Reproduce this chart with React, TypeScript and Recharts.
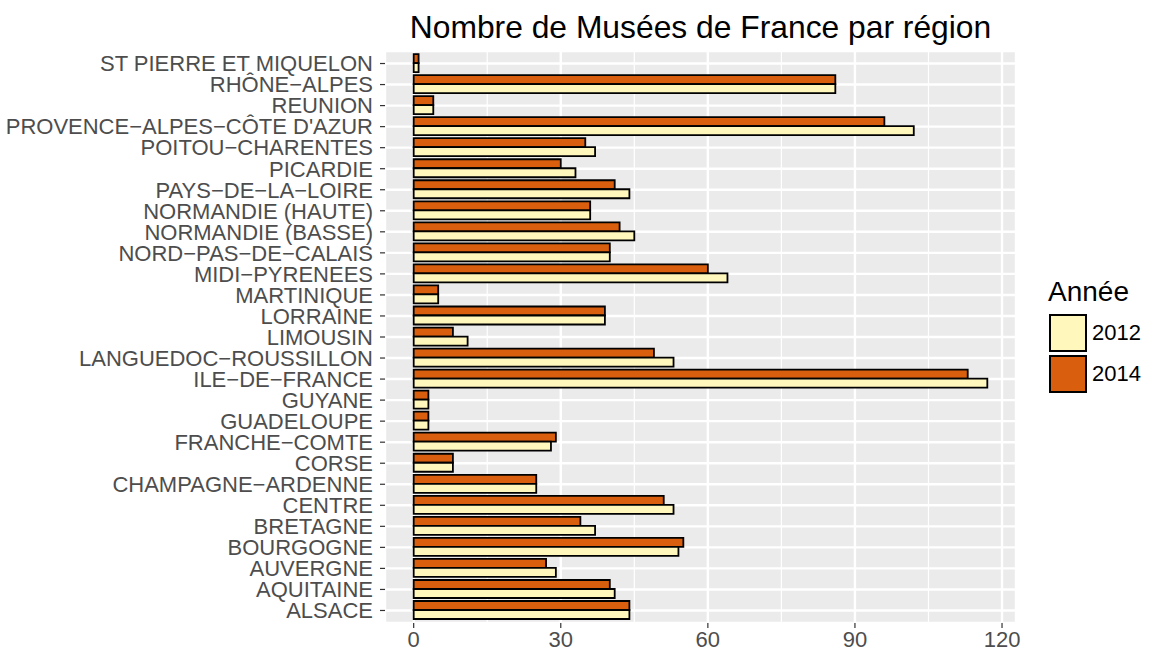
import React from 'react';
import { BarChart, Bar, XAxis, YAxis, CartesianGrid } from 'recharts';

const FONT = '"Liberation Sans", Arial, Helvetica, sans-serif';

// Categories, top to bottom as drawn
const regions = [
  'ST PIERRE ET MIQUELON',
  'RHÔNE−ALPES',
  'REUNION',
  "PROVENCE−ALPES−CÔTE D'AZUR",
  'POITOU−CHARENTES',
  'PICARDIE',
  'PAYS−DE−LA−LOIRE',
  'NORMANDIE (HAUTE)',
  'NORMANDIE (BASSE)',
  'NORD−PAS−DE−CALAIS',
  'MIDI−PYRENEES',
  'MARTINIQUE',
  'LORRAINE',
  'LIMOUSIN',
  'LANGUEDOC−ROUSSILLON',
  'ILE−DE−FRANCE',
  'GUYANE',
  'GUADELOUPE',
  'FRANCHE−COMTE',
  'CORSE',
  'CHAMPAGNE−ARDENNE',
  'CENTRE',
  'BRETAGNE',
  'BOURGOGNE',
  'AUVERGNE',
  'AQUITAINE',
  'ALSACE',
];

const values2014 = [1, 86, 4, 96, 35, 30, 41, 36, 42, 40, 60, 5, 39, 8, 49, 113, 3, 3, 29, 8, 25, 51, 34, 55, 27, 40, 44];
const values2012 = [1, 86, 4, 102, 37, 33, 44, 36, 45, 40, 64, 5, 39, 11, 53, 117, 3, 3, 28, 8, 25, 53, 37, 54, 29, 41, 44];

const years = ['2012', '2014'];
const yearColors = ['#FFF7BC', '#D95F0E'];

const xTicks = [0, 30, 60, 90, 120];
const xMinorTicks = [15, 45, 75, 105];
const xDomain = [-5.85, 122.85];

const titleText = 'Nombre de Musées de France par région';
const legendTitle = 'Année';

const data = regions.map((r, i) => ({ region: r, y2014: values2014[i], y2012: values2012[i] }));

const tickStyle = { fontSize: 22, fill: '#4D4D4D', fontFamily: FONT };
const tickLineStyle = { stroke: '#333333', strokeWidth: 1.2 };

export default function App() {
  return (
    <div style={{ position: 'absolute', left: 0, top: 0, width: 1152, height: 655, background: '#FFFFFF', fontFamily: FONT }}>
      <div
        style={{
          position: 'absolute',
          left: 385,
          width: 631,
          top: 11,
          textAlign: 'center',
          fontSize: 31.8,
          lineHeight: '32px',
          color: '#000000',
          whiteSpace: 'nowrap',
        }}
      >
        {titleText}
      </div>
      <BarChart
        width={1152}
        height={655}
        data={data}
        layout="vertical"
        margin={{ top: 51, right: 136, bottom: 0, left: 0 }}
        barCategoryGap="5%"
        barGap={0}
      >
        <CartesianGrid
          fill="#EBEBEB"
          stroke="#FFFFFF"
          strokeWidth={1.2}
          horizontal={false}
          verticalValues={xMinorTicks}
        />
        <CartesianGrid stroke="#FFFFFF" strokeWidth={2.4} />
        <XAxis
          type="number"
          domain={xDomain}
          ticks={xTicks}
          allowDataOverflow
          axisLine={false}
          tickLine={tickLineStyle}
          tickSize={5}
          tickMargin={3}
          tick={tickStyle}
          height={32}
        />
        <YAxis
          type="category"
          dataKey="region"
          width={385}
          interval={0}
          padding={{ top: 2, bottom: 2 }}
          axisLine={false}
          tickLine={tickLineStyle}
          tickSize={5}
          tickMargin={7}
          tick={tickStyle}
        />
        <Bar dataKey="y2014" name="2014" fill={yearColors[1]} stroke="#000000" strokeWidth={1.8} isAnimationActive={false} />
        <Bar dataKey="y2012" name="2012" fill={yearColors[0]} stroke="#000000" strokeWidth={1.8} isAnimationActive={false} />
      </BarChart>
      <div style={{ position: 'absolute', left: 1048, top: 278 }}>
        <div style={{ fontSize: 28, lineHeight: '28px', color: '#000000', marginBottom: 6 }}>{legendTitle}</div>
        {years.map((y, i) => (
          <div key={y} style={{ display: 'flex', alignItems: 'center', height: 41 }}>
            <div
              style={{
                width: 38,
                height: 38,
                boxSizing: 'border-box',
                border: '2px solid #000000',
                background: yearColors[i],
                marginLeft: 1,
              }}
            />
            <div style={{ fontSize: 22, marginLeft: 5, color: '#000000' }}>{y}</div>
          </div>
        ))}
      </div>
    </div>
  );
}
